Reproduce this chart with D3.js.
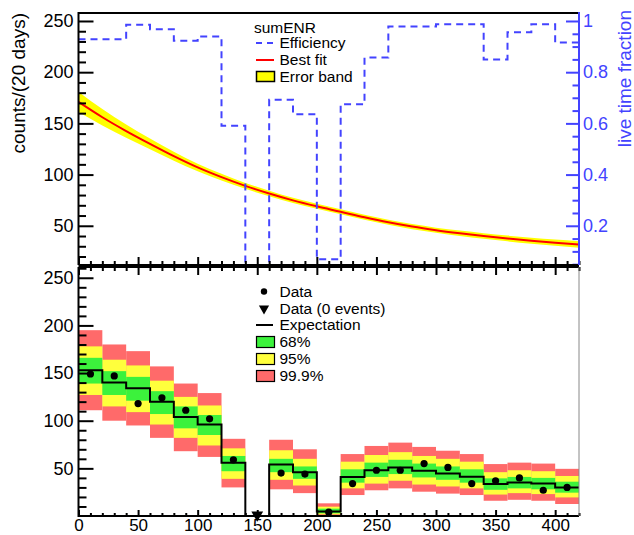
<!DOCTYPE html>
<html>
<head>
<meta charset="utf-8">
<script src="https://cdn.jsdelivr.net/npm/d3@7"></script>
<style>
  body { margin: 0; background: #fff; }
  svg { display: block; font-family: "Liberation Sans", Arial, Helvetica, sans-serif; }
</style>
</head>
<body>
<svg id="chart" width="634" height="535"></svg>
<script>
// ---- 20-day bins (lower edges, days) ----
const binStarts = [0, 20, 40, 60, 80, 100, 120, 140, 160, 180, 200,
                   220, 240, 260, 280, 300, 320, 340, 360, 380, 400];
const binWidth = 20;
const lastEdge = 420;

// ---- upper panel: live-time efficiency per bin ----
const efficiency = [0.929, 0.929, 0.985, 0.968, 0.923, 0.939, 0.591, 0.0, 0.692, 0.636, 0.069,
                    0.675, 0.857, 0.978, 0.978, 0.987, 0.987, 0.850, 0.956, 0.987, 0.916];

// ---- upper panel: fitted decay curve and its error band ----
const fitDays   = [0, 20, 40, 60, 80, 100, 120, 140, 160, 180, 200,
                   220, 240, 260, 280, 300, 320, 340, 360, 380, 400, 420];
const fitCounts = [171, 156, 142.5, 130, 118, 107, 97.5, 89, 81.5, 74.8, 69,
                   63.7, 58.3, 53.4, 49.2, 45.7, 42.7, 40.0, 37.6, 35.4, 33.5, 31.8];
const fitErr    = [10, 8, 6.5, 5.3, 4.4, 3.7, 3.2, 2.9, 2.7, 2.5, 2.4,
                   2.4, 2.4, 2.4, 2.5, 2.5, 2.6, 2.7, 2.8, 2.9, 3.0, 3.2];

// ---- lower panel: expectation, confidence bands and observed counts ----
const expected  = [153, 140, 134, 120, 104, 96, 56, 0, 54, 46, 4.8,
                   41, 48, 51, 47.5, 44.7, 41.2, 33.5, 35.2, 34.2, 30];
const band68Lo  = [139, 127, 121, 107, 92, 85, 47, null, 46, 39, 2.8,
                   35, 41, 44, 40.5, 38, 35, 27.5, 29, 28, 24.5];
const band68Hi  = [166, 152, 146, 131, 115, 106, 63, null, 60, 52, 7.7,
                   49, 56, 59, 55, 52, 49, 39.5, 41, 40, 36];
const band95Lo  = [127, 115, 109, 96, 82, 74, 39, null, 38, 32, 1.7,
                   29, 34, 37, 33, 31, 29, 22.5, 24, 23, 19.5];
const band95Hi  = [178, 164, 158, 142, 125, 116, 71, null, 69, 60, 9.8,
                   57, 64, 67, 63, 60, 57, 46, 48, 47, 42];
const band999Lo = [111, 100, 95, 82, 68, 62, 30, null, 28, 24, 0,
                   22, 27, 29, 25.5, 23.5, 22, 16, 17, 16, 12.6];
const band999Hi = [195, 180, 173, 157, 139, 129, 81, null, 80, 70, 13.3,
                   65, 73.5, 77, 72.5, 68.5, 65, 54.5, 56, 55, 49.5];
const observed  = [149, 147, 118, 124, 111, 102, 59, null, 45, 44, 4,
                   34, 48, 48, 55, 51, 34, 37, 40, 27, 30];
const zeroEventDays = [150];

// ---- tick labels ----
const xTicks = [0, 50, 100, 150, 200, 250, 300, 350, 400];
const countTicks = [50, 100, 150, 200, 250];
const effTicks = [0.2, 0.4, 0.6, 0.8, 1];

// ---- colours ----
const C = {
  eff: "#4343ff", fit: "#ff0000", band: "#ffff00",
  g68: "#3cf23c", y95: "#ffff3c", r999: "#ff6a6a"
};

const svg = d3.select("#chart");
const xL = 78.5, xR = 579;
const topY0 = 13, topY1 = 265;
const botY0 = 267, botY1 = 516;

const x = d3.scaleLinear().domain([0, 420]).range([xL, xR]);
const yTop = d3.scaleLinear().domain([11.7, 257.8]).range([topY1, topY0]);
const yEff = d3.scaleLinear().domain([11.7 / 250, 257.8 / 250]).range([topY1, topY0]);
const yBot = d3.scaleLinear().domain([0, 261.3]).range([botY1, botY0]);

const defs = svg.append("defs");
defs.append("clipPath").attr("id", "clipTop").append("rect")
  .attr("x", xL).attr("y", topY0).attr("width", xR - xL).attr("height", topY1 - topY0);
defs.append("clipPath").attr("id", "clipBot").append("rect")
  .attr("x", xL).attr("y", botY0).attr("width", xR - xL).attr("height", botY1 - botY0);

// ================= upper panel =================
const fitPts = fitDays.map((t, i) => ({ t, v: fitCounts[i], e: fitErr[i] }));
const gTop = svg.append("g").attr("clip-path", "url(#clipTop)");

gTop.append("path").datum(fitPts)
  .attr("fill", C.band)
  .attr("d", d3.area().curve(d3.curveMonotoneX)
    .x(d => x(d.t)).y0(d => yTop(d.v - d.e)).y1(d => yTop(d.v + d.e)));

gTop.append("path").datum(fitPts)
  .attr("fill", "none").attr("stroke", C.fit).attr("stroke-width", 2)
  .attr("d", d3.line().curve(d3.curveMonotoneX).x(d => x(d.t)).y(d => yTop(d.v)));

const effPts = binStarts.map((s, i) => ({ t: s, v: efficiency[i] }));
effPts.push({ t: lastEdge, v: efficiency[efficiency.length - 1] });
gTop.append("path").datum(effPts)
  .attr("fill", "none").attr("stroke", C.eff).attr("stroke-width", 2)
  .attr("stroke-dasharray", "7,5")
  .attr("d", d3.line().curve(d3.curveStepAfter).x(d => x(d.t)).y(d => yEff(d.v)));

// helper for axis styling
function styleAxis(g, color, fontSize) {
  g.attr("font-family", null).attr("font-size", fontSize || 18);
  g.select(".domain").remove();
  g.selectAll(".tick line").attr("stroke", color).attr("stroke-width", 2);
  g.selectAll(".tick text").attr("fill", color);
}
const minorRange = (lo, hi, step, major) =>
  d3.range(Math.ceil(lo / step) * step, hi + 1e-9, step)
    .filter(v => Math.abs(v / major - Math.round(v / major)) > 1e-6);

// left count axis (upper)
svg.append("g").attr("transform", `translate(${xL},0)`)
  .call(d3.axisLeft(yTop).tickValues(countTicks).tickSizeInner(-15).tickSizeOuter(0).tickPadding(5))
  .call(g => styleAxis(g, "#000"));
svg.append("g").attr("transform", `translate(${xL},0)`)
  .call(d3.axisLeft(yTop).tickValues(minorRange(11.7, 257.8, 10, 50)).tickSize(-7.5).tickFormat(""))
  .call(g => styleAxis(g, "#000"));

// bottom edge of upper panel (ticks only)
svg.append("g").attr("transform", `translate(0,${topY1})`)
  .call(d3.axisBottom(x).tickValues(xTicks).tickSize(-8).tickFormat(""))
  .call(g => styleAxis(g, "#000"));
svg.append("g").attr("transform", `translate(0,${topY1})`)
  .call(d3.axisBottom(x).tickValues(minorRange(0, 420, 10, 50)).tickSize(-4).tickFormat(""))
  .call(g => styleAxis(g, "#000"));

// right live-time axis
const fmtEff = d => d === 1 ? "1" : d3.format(".1f")(d);
svg.append("g").attr("transform", `translate(${xR},0)`)
  .call(d3.axisRight(yEff).tickValues(effTicks).tickSizeInner(-13).tickSizeOuter(0).tickPadding(4).tickFormat(fmtEff))
  .call(g => styleAxis(g, C.eff));
svg.append("g").attr("transform", `translate(${xR},0)`)
  .call(d3.axisRight(yEff).tickValues(minorRange(11.7 / 250, 257.8 / 250, 0.05, 0.2)).tickSize(-6.5).tickFormat(""))
  .call(g => styleAxis(g, C.eff));

// upper frame lines
svg.append("line").attr("x1", xL).attr("x2", xR).attr("y1", topY0).attr("y2", topY0)
  .attr("stroke", "#000").attr("stroke-width", 2);
svg.append("line").attr("x1", xL).attr("x2", xR).attr("y1", topY1).attr("y2", topY1)
  .attr("stroke", "#000").attr("stroke-width", 2);
svg.append("line").attr("x1", xL).attr("x2", xL).attr("y1", topY0 - 1).attr("y2", topY1)
  .attr("stroke", "#000").attr("stroke-width", 2);
svg.append("line").attr("x1", xR).attr("x2", xR).attr("y1", topY0 - 1).attr("y2", topY1)
  .attr("stroke", C.eff).attr("stroke-width", 2);

// axis titles
svg.append("text").attr("transform", "translate(18,13) rotate(-90)")
  .attr("text-anchor", "end").attr("dy", "0.35em").attr("font-size", 19)
  .text("counts/(20 days)");
svg.append("text").attr("transform", "translate(624,10) rotate(-90)")
  .attr("text-anchor", "end").attr("dy", "0.35em").attr("font-size", 19)
  .attr("fill", C.eff).text("live time fraction");

// upper legend
const lgT = svg.append("g").attr("font-size", 15.5);
lgT.append("text").attr("x", 254).attr("y", 27.5).attr("dy", "0.35em").text("sumENR");
lgT.append("line").attr("x1", 256).attr("x2", 275).attr("y1", 43).attr("y2", 43)
  .attr("stroke", C.eff).attr("stroke-width", 2).attr("stroke-dasharray", "6,5");
lgT.append("text").attr("x", 279.5).attr("y", 43).attr("dy", "0.35em").text("Efficiency");
lgT.append("line").attr("x1", 256).attr("x2", 274).attr("y1", 60).attr("y2", 60)
  .attr("stroke", C.fit).attr("stroke-width", 2);
lgT.append("text").attr("x", 279.5).attr("y", 60).attr("dy", "0.35em").text("Best fit");
lgT.append("rect").attr("x", 256.5).attr("y", 71.5).attr("width", 18).attr("height", 10)
  .attr("fill", C.band).attr("stroke", "#000").attr("stroke-width", 1.5);
lgT.append("text").attr("x", 279.5).attr("y", 76.5).attr("dy", "0.35em").text("Error band");

// ================= lower panel =================
const bins = binStarts.map((s, i) => ({
  s, e: s + binWidth, exp: expected[i], obs: observed[i],
  b68: [band68Lo[i], band68Hi[i]], b95: [band95Lo[i], band95Hi[i]], b999: [band999Lo[i], band999Hi[i]]
}));
const gBot = svg.append("g").attr("clip-path", "url(#clipBot)");

[["b999", C.r999], ["b95", C.y95], ["b68", C.g68]].forEach(([key, col]) => {
  gBot.selectAll(null).data(bins.filter(b => b[key][0] !== null)).join("rect")
    .attr("x", d => x(d.s)).attr("width", d => x(d.e) - x(d.s))
    .attr("y", d => yBot(d[key][1])).attr("height", d => yBot(d[key][0]) - yBot(d[key][1]))
    .attr("fill", col);
});

const expPts = bins.map(b => ({ t: b.s, v: b.exp }));
expPts.push({ t: lastEdge, v: expected[expected.length - 1] });
gBot.append("path").datum(expPts)
  .attr("fill", "none").attr("stroke", "#000").attr("stroke-width", 2)
  .attr("d", d3.line().curve(d3.curveStepAfter).x(d => x(d.t)).y(d => yBot(d.v)));

gBot.selectAll(null).data(bins.filter(b => b.obs !== null)).join("circle")
  .attr("cx", d => x((d.s + d.e) / 2)).attr("cy", d => yBot(d.obs)).attr("r", 3.6)
  .attr("fill", "#000");

const tri = d3.symbol().type(d3.symbolTriangle).size(60);
svg.selectAll(null).data(zeroEventDays).join("path")
  .attr("d", tri())
  .attr("transform", d => `translate(${x(d)},${yBot(0) - 1}) rotate(180)`)
  .attr("fill", "#000");

// lower axes
svg.append("g").attr("transform", `translate(${xL},0)`)
  .call(d3.axisLeft(yBot).tickValues(countTicks).tickSizeInner(-15).tickSizeOuter(0).tickPadding(5))
  .call(g => styleAxis(g, "#000"));
svg.append("g").attr("transform", `translate(${xL},0)`)
  .call(d3.axisLeft(yBot).tickValues(minorRange(0.1, 261.3, 10, 50)).tickSize(-8).tickFormat(""))
  .call(g => styleAxis(g, "#000"));

svg.append("g").attr("transform", `translate(0,${botY1})`)
  .call(d3.axisBottom(x).tickValues(xTicks).tickSizeInner(-6).tickSizeOuter(0).tickPadding(3))
  .call(g => styleAxis(g, "#000", 17));
svg.append("g").attr("transform", `translate(0,${botY1})`)
  .call(d3.axisBottom(x).tickValues(minorRange(0, 420, 10, 50)).tickSize(-3).tickFormat(""))
  .call(g => styleAxis(g, "#000"));

svg.append("g").attr("transform", `translate(0,${botY0})`)
  .call(d3.axisTop(x).tickValues(xTicks).tickSize(-8).tickFormat(""))
  .call(g => styleAxis(g, "#000"));
svg.append("g").attr("transform", `translate(0,${botY0})`)
  .call(d3.axisTop(x).tickValues(minorRange(0, 420, 10, 50)).tickSize(-4).tickFormat(""))
  .call(g => styleAxis(g, "#000"));

// lower frame lines
svg.append("line").attr("x1", xL).attr("x2", xR).attr("y1", botY0).attr("y2", botY0)
  .attr("stroke", "#000").attr("stroke-width", 2);
svg.append("line").attr("x1", xL).attr("x2", xR).attr("y1", botY1).attr("y2", botY1)
  .attr("stroke", "#000").attr("stroke-width", 2);
svg.append("line").attr("x1", xL).attr("x2", xL).attr("y1", botY0).attr("y2", botY1 + 1)
  .attr("stroke", "#000").attr("stroke-width", 2);
svg.append("line").attr("x1", xR).attr("x2", xR).attr("y1", botY0).attr("y2", botY1)
  .attr("stroke", "#888").attr("stroke-width", 1);

// lower legend
const lgB = svg.append("g").attr("font-size", 15.5);
const rows = [291.5, 308.5, 325, 342, 359, 376];
lgB.append("circle").attr("cx", 264).attr("cy", rows[0]).attr("r", 3.2).attr("fill", "#000");
lgB.append("text").attr("x", 279.5).attr("y", rows[0]).attr("dy", "0.35em").text("Data");
lgB.append("path").attr("d", d3.symbol().type(d3.symbolTriangle).size(45)())
  .attr("transform", `translate(264,${rows[1]}) rotate(180)`).attr("fill", "#000");
lgB.append("text").attr("x", 279.5).attr("y", rows[1]).attr("dy", "0.35em").text("Data (0 events)");
lgB.append("line").attr("x1", 256).attr("x2", 273).attr("y1", rows[2]).attr("y2", rows[2])
  .attr("stroke", "#000").attr("stroke-width", 2);
lgB.append("text").attr("x", 279.5).attr("y", rows[2]).attr("dy", "0.35em").text("Expectation");
[["68%", C.g68], ["95%", C.y95], ["99.9%", C.r999]].forEach(([lab, col], i) => {
  const r = rows[3 + i];
  lgB.append("rect").attr("x", 256.5).attr("y", r - 5.5).attr("width", 18).attr("height", 11)
    .attr("fill", col).attr("stroke", "#000").attr("stroke-width", 1.2);
  lgB.append("text").attr("x", 279.5).attr("y", r).attr("dy", "0.35em").text(lab);
});
</script>
</body>
</html>
